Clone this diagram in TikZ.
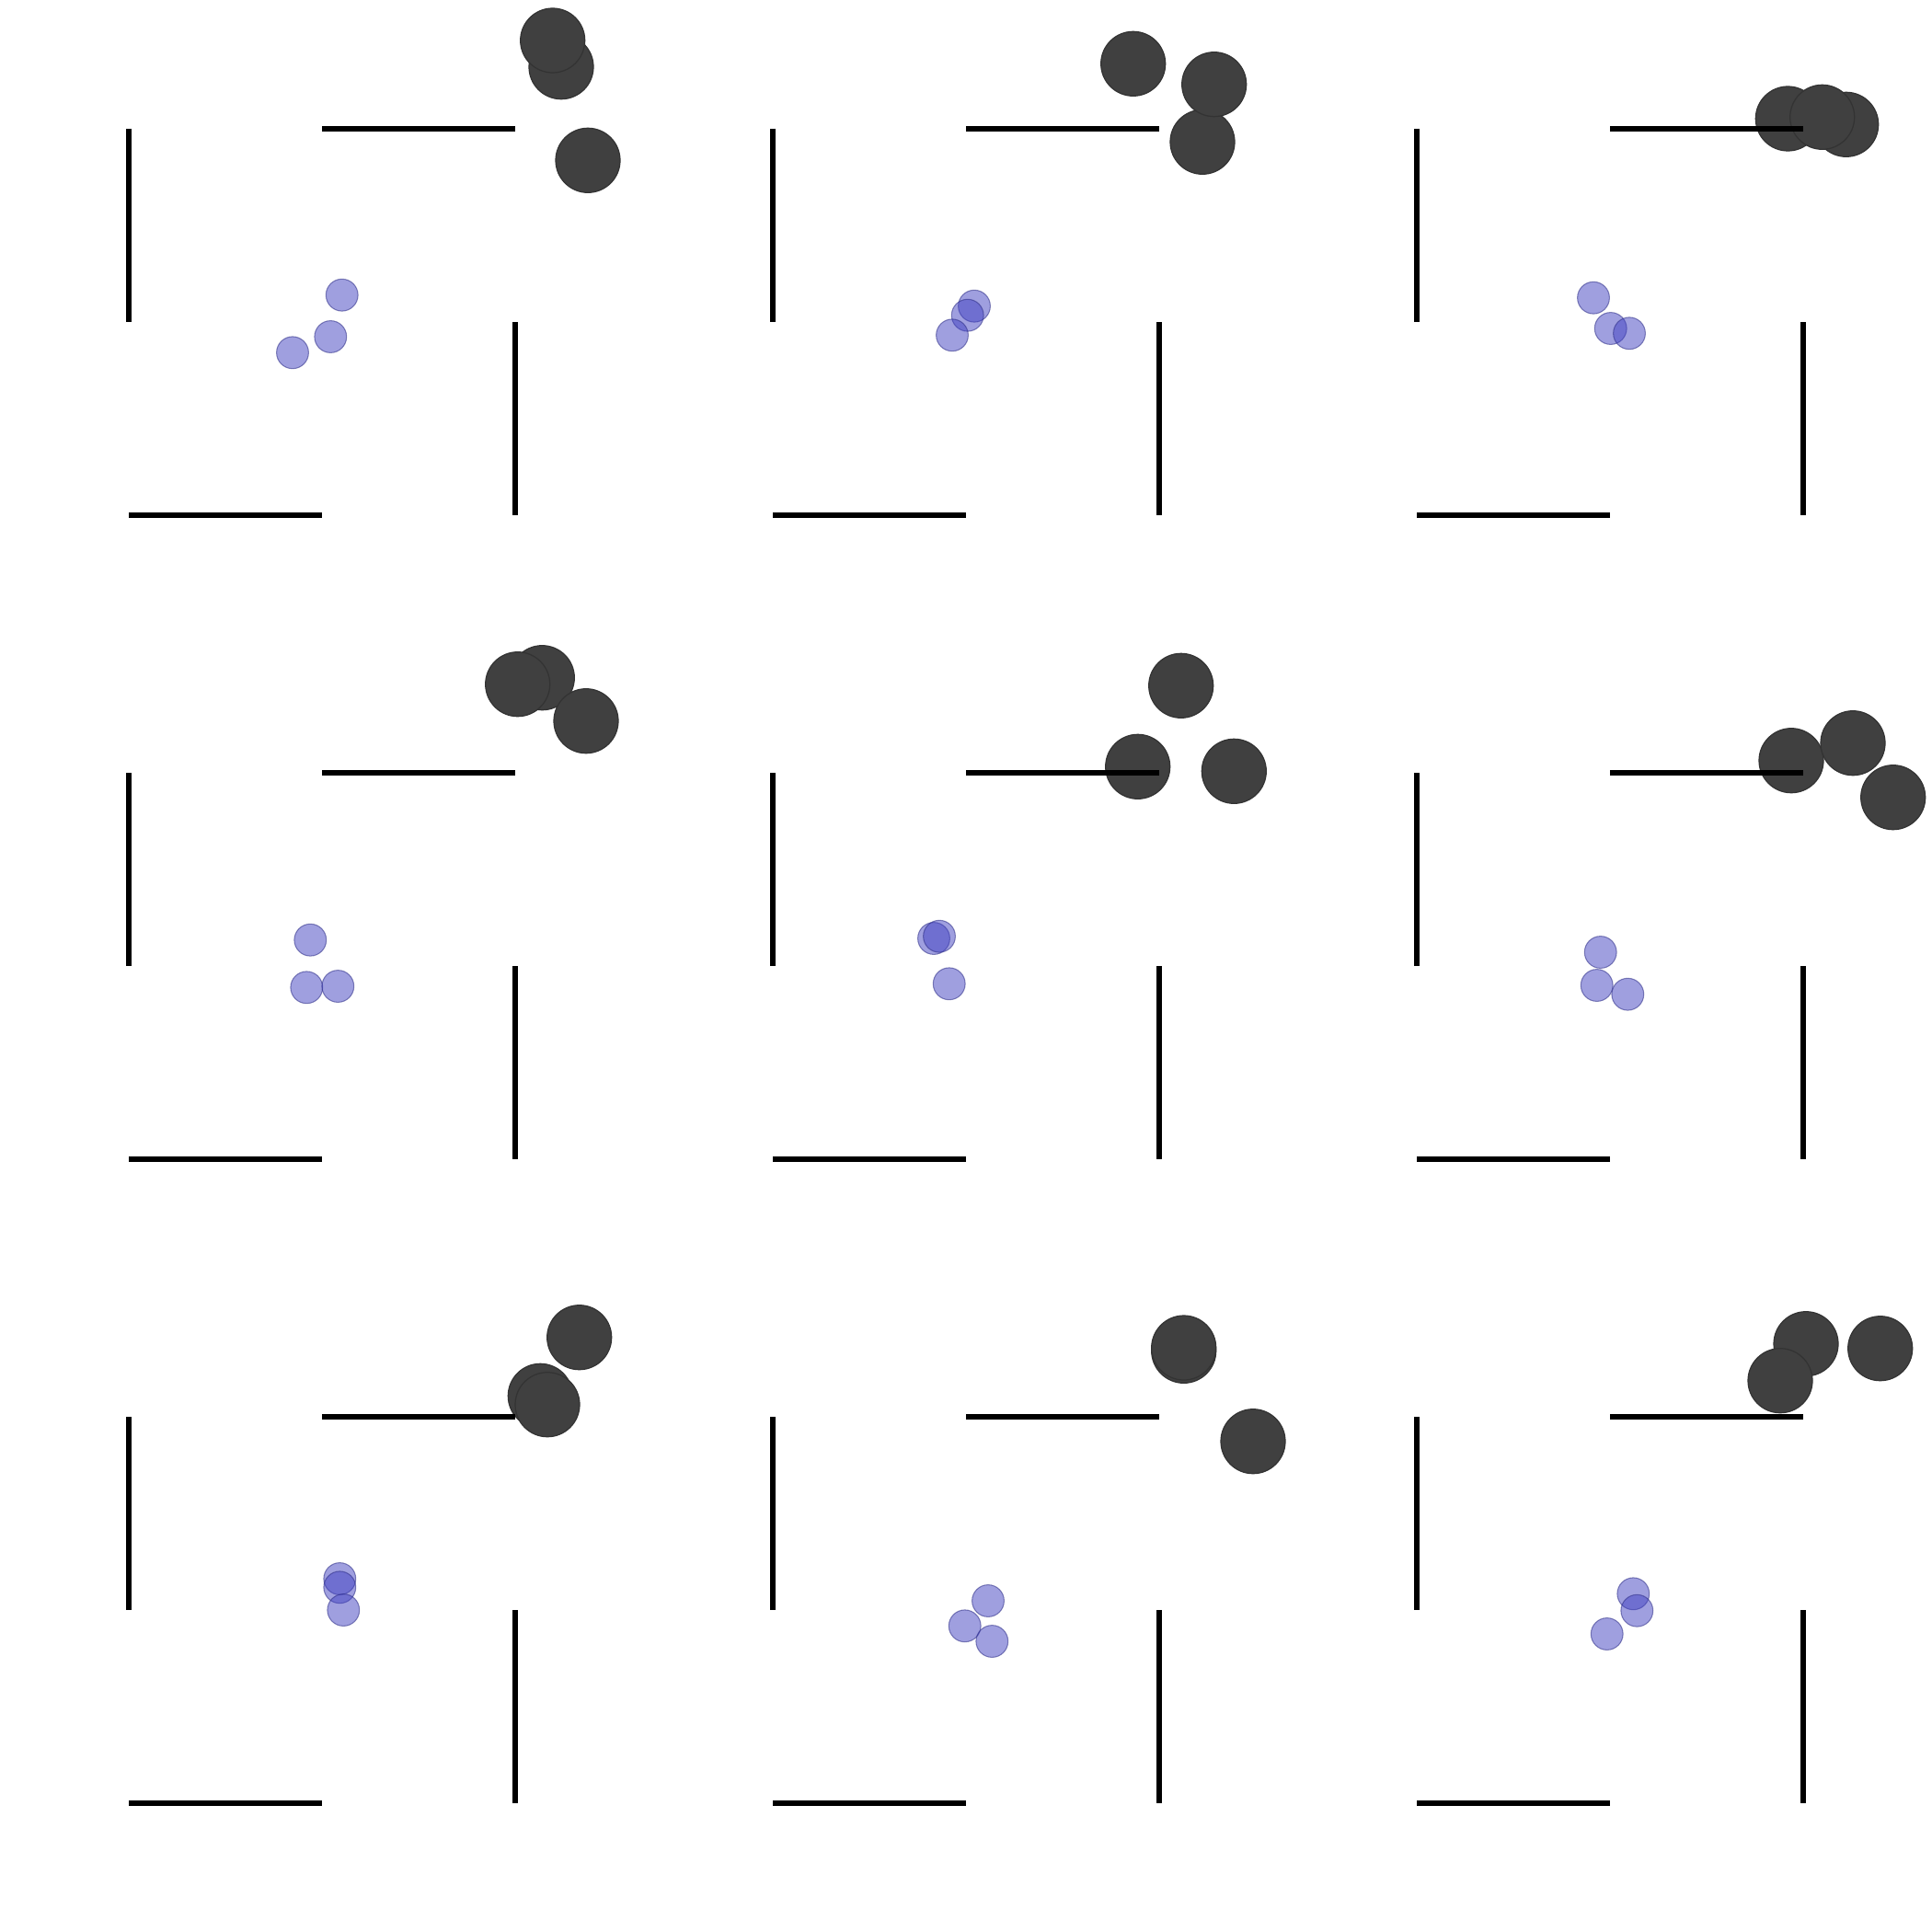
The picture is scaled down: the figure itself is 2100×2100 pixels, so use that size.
\documentclass[tikz,border=0pt]{standalone}
\usepackage{xcolor}
\usepackage{tikz}

\definecolor{agentblue}{RGB}{64,64,192}
\definecolor{rockgray}{RGB}{64,64,64}
\tikzset{
  wall/.style={line width=1.45pt, black},
  agent/.style={fill=agentblue, draw=agentblue!70!black, fill opacity=0.5, draw opacity=0.55, line width=0.3pt},
  rock/.style={fill=rockgray, draw=black!80, line width=0.35pt},
}

\begin{document}
\begin{tikzpicture}[x=0.01cm, y=-0.01cm]
        \useasboundingbox (0,0) rectangle (2100,2100);
        % panel 1
        \filldraw [rock] (610,72.7) circle (35);
        \filldraw [rock] (600.7,44) circle (35);
        \filldraw [rock] (639,174.3) circle (35);
        \filldraw [agent] (371.7,320.7) circle (17.4);
        \filldraw [agent] (359.3,366) circle (17.4);
        \filldraw [agent] (318,383.3) circle (17.4);
        % panel 2
        \filldraw [rock] (1231.7,69.3) circle (35);
        \filldraw [rock] (1307,154.3) circle (35);
        \filldraw [rock] (1319.7,91.7) circle (35);
        \filldraw [agent] (1059,332.7) circle (17.4);
        \filldraw [agent] (1051.7,342.7) circle (17.4);
        \filldraw [agent] (1035,364.3) circle (17.4);
        % panel 3
        \filldraw [rock] (1943.3,129) circle (35);
        \filldraw [rock] (2006.7,135.3) circle (35);
        \filldraw [rock] (1980.7,127.3) circle (35);
        \filldraw [agent] (1732,323.7) circle (17.4);
        \filldraw [agent] (1750.7,357) circle (17.4);
        \filldraw [agent] (1771,362.3) circle (17.4);
        % panel 4
        \filldraw [rock] (589.3,736.7) circle (35);
        \filldraw [rock] (562.7,743.7) circle (35);
        \filldraw [rock] (637,783.7) circle (35);
        \filldraw [agent] (337.3,1021.7) circle (17.4);
        \filldraw [agent] (333.3,1073.3) circle (17.4);
        \filldraw [agent] (367.3,1072) circle (17.4);
        % panel 5
        \filldraw [rock] (1283.7,745.3) circle (35);
        \filldraw [rock] (1236.7,833.3) circle (35);
        \filldraw [rock] (1341.3,838.3) circle (35);
        \filldraw [agent] (1015,1020) circle (17.4);
        \filldraw [agent] (1021,1017.7) circle (17.4);
        \filldraw [agent] (1031.7,1069.3) circle (17.4);
        % panel 6
        \filldraw [rock] (1947,826.7) circle (35);
        \filldraw [rock] (2014,807.7) circle (35);
        \filldraw [rock] (2057.7,866.7) circle (35);
        \filldraw [agent] (1739.7,1035) circle (17.4);
        \filldraw [agent] (1735.7,1071) circle (17.4);
        \filldraw [agent] (1769.3,1080.7) circle (17.4);
        % panel 7
        \filldraw [rock] (629.7,1453.7) circle (35);
        \filldraw [rock] (587.3,1517.3) circle (35);
        \filldraw [rock] (595,1526.7) circle (35);
        \filldraw [agent] (369.3,1716) circle (17.4);
        \filldraw [agent] (369.3,1725.3) circle (17.4);
        \filldraw [agent] (373.3,1750) circle (17.4);
        % panel 8
        \filldraw [rock] (1286.7,1468.3) circle (35);
        \filldraw [rock] (1286.7,1465) circle (35);
        \filldraw [rock] (1362,1566.7) circle (35);
        \filldraw [agent] (1074,1740) circle (17.4);
        \filldraw [agent] (1048.7,1767.3) circle (17.4);
        \filldraw [agent] (1078.3,1784) circle (17.4);
        % panel 9
        \filldraw [rock] (1963,1460.7) circle (35);
        \filldraw [rock] (2043.7,1465.7) circle (35);
        \filldraw [rock] (1935,1500.7) circle (35);
        \filldraw [agent] (1775.3,1732.3) circle (17.4);
        \filldraw [agent] (1779.3,1750.7) circle (17.4);
        \filldraw [agent] (1746.7,1776) circle (17.4);
        % walls
        \foreach \i in {0,1,2} {
          \foreach \j in {0,1,2} {
            \begin{scope}[shift={(700*\i,700*\j)}]
              \draw [wall] (140,140) -- (140,350);
              \draw [wall] (350,140) -- (560,140);
              \draw [wall] (560,350) -- (560,560);
              \draw [wall] (140,560) -- (350,560);
            \end{scope}
          }
        }
    \end{tikzpicture}
\end{document}
